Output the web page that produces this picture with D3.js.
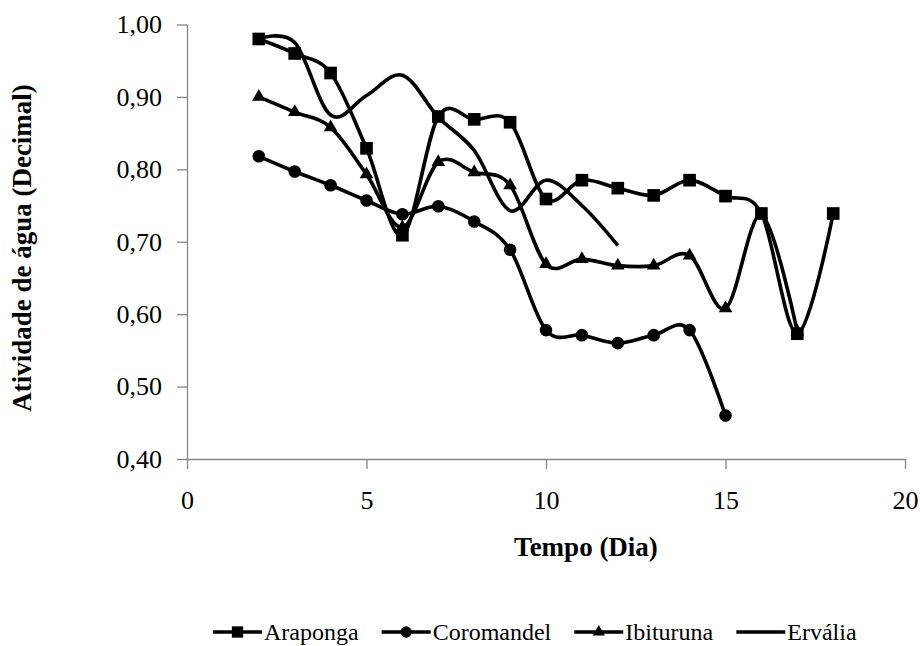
<!DOCTYPE html>
<html>
<head>
<meta charset="utf-8">
<script src="https://cdn.jsdelivr.net/npm/d3@7"></script>
</head>
<body style="margin:0; background:#fff">
<div id="chart"></div>
<script>
// data
const days = [2, 3, 4, 5, 6, 7, 8, 9, 10, 11, 12, 13, 14, 15, 16, 17, 18];
const araponga   = [0.980, 0.960, 0.933, 0.829, 0.709, 0.873, 0.869, 0.865, 0.759, 0.785, 0.774, 0.764, 0.785, 0.763, 0.739, 0.573, 0.739];
const coromandel = [0.818, 0.797, 0.778, 0.757, 0.738, 0.749, 0.728, 0.689, 0.578, 0.571, 0.560, 0.571, 0.578, 0.460, null, null, null];
const ibituruna  = [0.900, 0.879, 0.858, 0.793, 0.720, 0.810, 0.796, 0.778, 0.669, 0.676, 0.667, 0.667, 0.681, 0.608, 0.737, 0.576, null];
const ervalia    = [0.980, 0.975, 0.875, 0.902, 0.930, 0.872, 0.826, 0.743, 0.785, 0.750, 0.695, null, null, null, null, null, null];
const seriesNames = ["Araponga", "Coromandel", "Ibituruna", "Ervália"];
const xTicks = [0, 5, 10, 15, 20];
const yTicks = [0.40, 0.50, 0.60, 0.70, 0.80, 0.90, 1.00];

const width = 920, height = 646;
const plotLeft = 187, plotRight = 905, plotTop = 24.5, plotBottom = 459;
const fontFam = "'Liberation Serif', monospace";

const series = [
  { name: seriesNames[0], values: araponga, symbol: d3.symbolSquare, size: 160 },
  { name: seriesNames[1], values: coromandel, symbol: d3.symbolCircle, size: 125 },
  { name: seriesNames[2], values: ibituruna, symbol: d3.symbolTriangle, size: 80 },
  { name: seriesNames[3], values: ervalia, symbol: null, size: 0 }
];

const br = d3.formatLocale({ decimal: ",", thousands: ".", grouping: [3], currency: ["R$", ""] });
const fmt = br.format(".2f");

const x = d3.scaleLinear().domain([0, 20]).range([plotLeft, plotRight]);
const y = d3.scaleLinear().domain([0.4, 1.0]).range([plotBottom, plotTop]);

const svg = d3.select("#chart").append("svg")
  .attr("width", width)
  .attr("height", height);

svg.append("rect").attr("width", width).attr("height", height).attr("fill", "#fff");

// axes
const yAxis = svg.append("g")
  .attr("transform", "translate(" + plotLeft + ",0)")
  .call(d3.axisLeft(y).tickValues(yTicks).tickFormat(fmt).tickSize(10).tickSizeOuter(0).tickPadding(15));

const xAxis = svg.append("g")
  .attr("transform", "translate(0," + plotBottom + ")")
  .call(d3.axisBottom(x).tickValues(xTicks).tickSize(10).tickSizeOuter(0).tickPadding(22));

[yAxis, xAxis].forEach(a => {
  a.attr("font-family", null).attr("font-size", null);
  a.selectAll("path, line").attr("stroke", "#868686").attr("stroke-width", 1.3);
  a.selectAll("text").style("font-family", fontFam).style("font-size", "26px").attr("fill", "#000");
});

// lines
const line = d3.line()
  .defined(d => d.v !== null)
  .x(d => x(d.day))
  .y(d => y(d.v))
  .curve(d3.curveCardinal.tension(0));

series.forEach(s => {
  const pts = days.map((day, i) => ({ day: day, v: s.values[i] }));
  svg.append("path")
    .datum(pts)
    .attr("fill", "none")
    .attr("stroke", "#000")
    .attr("stroke-width", 3.6)
    .attr("stroke-linejoin", "round")
    .attr("d", line);

  if (s.symbol) {
    svg.append("g").selectAll("path")
      .data(pts.filter(d => d.v !== null))
      .join("path")
      .attr("transform", d => "translate(" + x(d.day) + "," + y(d.v) + ")")
      .attr("d", d3.symbol(s.symbol, s.size))
      .attr("fill", "#000");
  }
});

// axis titles
svg.append("text")
  .attr("x", 586)
  .attr("y", 556)
  .attr("text-anchor", "middle")
  .style("font-family", fontFam)
  .style("font-size", "27px")
  .style("font-weight", "bold")
  .text("Tempo (Dia)");

svg.append("text")
  .attr("transform", "translate(31,248) rotate(-90)")
  .attr("text-anchor", "middle")
  .style("font-family", fontFam)
  .style("font-size", "27px")
  .style("font-weight", "bold")
  .text("Atividade de água (Decimal)");

// legend
const legend = svg.append("g").attr("transform", "translate(213,632)");
let lx = 0;
series.forEach(s => {
  const g = legend.append("g").attr("transform", "translate(" + lx + ",0)");
  g.append("line")
    .attr("x1", 0).attr("x2", 49)
    .attr("stroke", "#000").attr("stroke-width", 3.6);
  if (s.symbol) {
    g.append("path")
      .attr("transform", "translate(24.5,0)")
      .attr("d", d3.symbol(s.symbol, s.size * 0.8))
      .attr("fill", "#000");
  }
  const t = g.append("text")
    .attr("x", 51)
    .attr("y", 8)
    .style("font-family", fontFam)
    .style("font-size", "24px")
    .text(s.name);
  lx += 51 + t.node().getComputedTextLength() + 23;
});
</script>
</body>
</html>
